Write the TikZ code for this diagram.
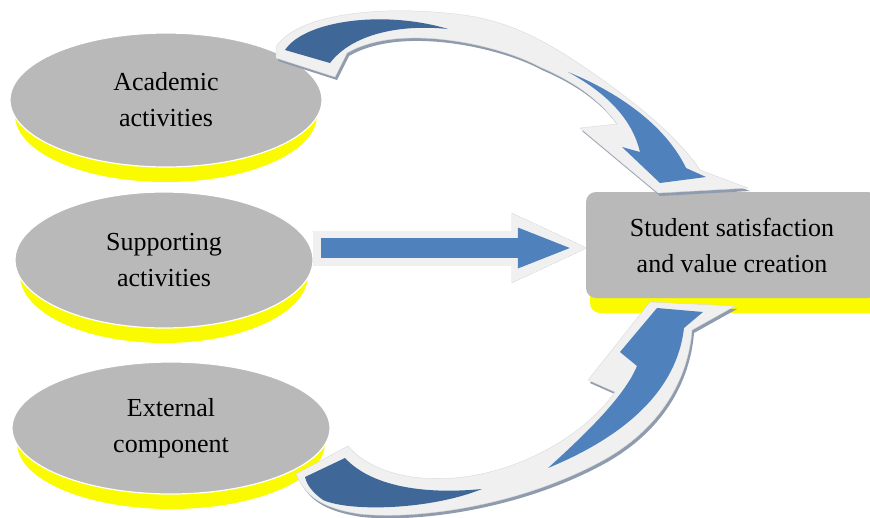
\documentclass[tikz,border=0pt]{standalone}
\usepackage{fontspec}
\setmainfont{Liberation Serif}
\usetikzlibrary{shapes.geometric,shadows,calc,arrows.meta}
\definecolor{diskgray}{HTML}{B9B9B9}
\definecolor{rimyellow}{HTML}{FAFA00}
\definecolor{ribbonedge}{HTML}{F0F0F0}
\definecolor{ribbonshade}{HTML}{8E9CAE}
\definecolor{darkblue}{HTML}{3F6797}
\definecolor{lightblue}{HTML}{4F81BD}
\newcommand{\drawdisc}[5]
{\fill[rimyellow] ($#2+(0,15)$) ellipse [x radius=#3-5, y radius=#4];
\node[disc,minimum width=2*#3,minimum height=2*#4] (#1) at #2 {#5};
}
\newcommand{\drawribbon}[3]
{\fill[ribbonshade,shift={(2,3)}] #1;
\filldraw[fill=ribbonedge,draw=gray!30] #1;
\fill[darkblue] #2;
\fill[lightblue] #3;
}

\begin{document}
\begin{tikzpicture}[x=1pt,y=-1pt,
	disc/.style={ellipse,fill=diskgray,draw=white,line width=1.2pt,inner sep=0pt,align=center,
		font=\fontsize{26}{36}\selectfont},
	goalbox/.style={rectangle,rounded corners=10pt,fill=diskgray,minimum width=292pt,minimum height=106pt,align=center,
		font=\fontsize{26}{36}\selectfont,general shadow={fill=rimyellow,shadow xshift=4pt,shadow yshift=-15pt}},
	flatedge/.style={line width=35pt,-{Triangle[length=75pt,width=70pt,line width'=0pt]}},
	flatbody/.style={line width=20pt,draw=lightblue,-{Triangle[length=52pt,width=41pt,line width'=0pt]}}]
	\useasboundingbox (0,0) rectangle (870,517);
	\drawdisc{acad}{(166,100)}{156}{67}{Academic\\activities}
	\drawdisc{supp}{(164,260)}{149}{68}{Supporting\\activities}
	\drawdisc{ext}{(171,428)}{159}{66}{External\\component}
	\node[goalbox] (goal) at (732,245) {Student satisfaction\\and value creation};
	% straight arrow
	\coordinate (sa) at ($(supp.east)+(7,-12)$);
	\coordinate (ta) at ($(goal.west)+(-16,3)$);
	\draw[flatedge,draw=ribbonshade,shift={(3,3)}] ($(sa)+(-8,0)$) -- ($(ta)+(17,0)$);
	\draw[flatedge,draw=ribbonedge] ($(sa)+(-8,0)$) -- ($(ta)+(17,0)$);
	\draw[flatbody] (sa) -- (ta);
	% curved arrows
	\drawribbon{(276,47) .. controls (298,12) and (390,4) .. (470,16) .. controls (520,24) and (560,50) .. (600,78) .. controls (645,110) and (680,140) .. (700,170) -- (748,188) -- (658,193) -- (580,128) -- (617,124) .. controls (600,100) and (575,82) .. (540,67) .. controls (500,45) and (400,22) .. (347,53) -- (335,77) -- (276,58) -- cycle}
	{(285,50) .. controls (305,20) and (385,10) .. (448,29) .. controls (400,24) and (352,34) .. (330,63) -- cycle}
	{(568,72) .. controls (625,95) and (668,130) .. (686,168) -- (706,177) -- (660,183) -- (622,147) -- (640,152) .. controls (632,118) and (605,92) .. (568,72) -- cycle}
	\drawribbon{(296,474) -- (348,446) .. controls (375,478) and (440,490) .. (510,466) .. controls (560,448) and (595,420) .. (615,392) -- (588,380) -- (650,302) -- (735,306) -- (692,330) .. controls (688,380) and (660,430) .. (600,462) .. controls (520,505) and (420,520) .. (360,514) .. controls (320,508) and (305,495) .. (296,474) -- cycle}
	{(305,477) -- (345,458) .. controls (370,485) and (420,495) .. (482,489) .. controls (430,510) and (350,512) .. (323,500) .. controls (312,492) and (307,485) .. (305,477) -- cycle}
	{(548,468) .. controls (590,430) and (625,395) .. (637,366) -- (620,352) -- (657,308) -- (703,312) -- (684,328) .. controls (678,380) and (640,430) .. (548,468) -- cycle}
\end{tikzpicture}
\end{document}
